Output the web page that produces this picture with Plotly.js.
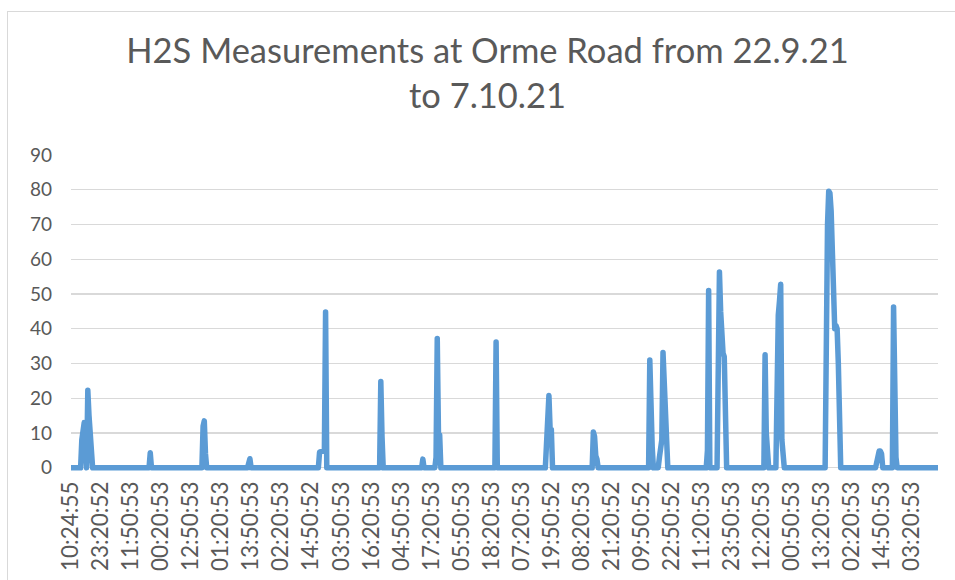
<!DOCTYPE html>
<html>
<head>
<meta charset="utf-8">
<script src="https://cdn.plot.ly/plotly-3.0.1.min.js"></script>
<style>
  html, body { margin: 0; padding: 0; background: #ffffff; }
  #chart { width: 955px; height: 580px; position: absolute; left: 0; top: 0; }
  #frame { position: absolute; left: 7px; top: 11px; width: 2000px; height: 2000px;
           border-left: 1px solid #d9d9d9; border-top: 1px solid #d9d9d9; pointer-events: none; }
  .scatterlayer path.js-line { stroke-linejoin: round; stroke-linecap: round; }
</style>
</head>
<body>
<div id="chart"></div>
<div id="frame"></div>
<script>
// Sample number (one reading every 30 minutes) and H2S reading at that sample.
// Only the samples around each peak are listed; all other readings are 0.
const sampleIndex = [
  0, 8, 9, 11, 13, 14, 15, 16, 17, 18,
  65, 66, 67,
  109, 110, 111, 112, 113,
  147, 148, 149, 150,
  206, 207, 209, 211, 212, 213,
  257, 258, 259, 260,
  292, 293, 294,
  303, 304, 305, 306, 307, 308,
  353, 354, 355,
  395, 396, 397, 398, 399, 400, 401,
  434, 435, 436, 437, 438, 439,
  481, 482, 483, 484, 485,
  489, 490, 491, 492, 493, 494, 495, 496, 497,
  529, 530, 531, 532,
  538, 539, 540, 541, 542, 543, 544, 545, 546,
  577, 578, 579, 580, 581,
  587, 588, 589, 590, 591, 592, 593, 594,
  628, 629, 630, 631, 632, 633, 634, 635, 636, 637, 638, 639, 640, 641,
  670, 671, 672, 673, 674, 675, 676,
  684, 685, 686, 687, 688,
  722
];
const h2sValues = [
  0, 0, 8, 13, 0, 22.3, 15, 11, 8, 0,
  0, 4.3, 0,
  0, 12, 13.5, 4, 0,
  0, 2.3, 2.6, 0,
  0, 4.5, 4.8, 5, 44.8, 0,
  0, 24.8, 9, 0,
  0, 2.5, 0,
  0, 3, 37.2, 10, 9.5, 0,
  0, 36.2, 0,
  0, 7, 8.5, 20.8, 11, 11, 0,
  0, 10.3, 9, 3.5, 2.5, 0,
  0, 31, 12, 6, 0,
  0, 3, 6, 8, 33.2, 22, 10, 8, 0,
  0, 5, 51, 0,
  0, 30, 56.3, 45, 34, 33, 32, 5, 0,
  0, 32.5, 10, 3, 0,
  0, 41, 44, 48, 52.8, 8, 5, 0,
  0, 66, 70, 79.6, 79, 74, 64, 45, 40, 41, 40, 30, 5, 0,
  0, 2.5, 4, 4.8, 4.8, 4, 0,
  0, 46.3, 8, 3, 0,
  0
];
// Category labels shown on the axis (every 25th sample).
const tickPositions = [0, 25, 50, 75, 100, 125, 150, 175, 200, 225, 250, 275, 300, 325,
  350, 375, 400, 425, 450, 475, 500, 525, 550, 575, 600, 625, 650, 675, 700];
const tickLabels = ['10:24:55', '23:20:52', '11:50:53', '00:20:53', '12:50:53', '01:20:53',
  '13:50:53', '02:20:53', '14:50:52', '03:50:53', '16:20:53', '04:50:53', '17:20:53',
  '05:50:53', '18:20:53', '07:20:53', '19:50:52', '08:20:53', '21:20:52', '09:50:52',
  '22:50:52', '11:20:53', '23:50:53', '12:20:53', '00:50:53', '13:20:53', '02:20:53',
  '14:50:53', '03:20:53'];
const yTicks = [0, 10, 20, 30, 40, 50, 60, 70, 80, 90];

const textColor = '#595959';
const fontFam = 'Lato, "Open Sans", sans-serif';

const trace = {
  x: sampleIndex,
  y: h2sValues,
  type: 'scatter',
  mode: 'lines',
  line: { color: '#5b9bd5', width: 5.5, shape: 'linear' },
  hoverinfo: 'x+y',
  showlegend: false
};

const layout = {
  width: 955,
  height: 580,
  paper_bgcolor: 'rgba(0,0,0,0)',
  plot_bgcolor: 'rgba(0,0,0,0)',
  margin: { l: 71, r: 17, t: 154.5, b: 107.3, pad: 0 },
  title: {
    text: 'H2S Measurements at Orme Road from 22.9.21<br>to 7.10.21',
    font: { family: fontFam, size: 34.5, color: textColor },
    xref: 'container', x: 0.5105, xanchor: 'center',
    yref: 'container', y: 1 - 63 / 580, yanchor: 'top'
  },
  xaxis: {
    range: [0, 722],
    tickmode: 'array',
    tickvals: tickPositions,
    ticktext: tickLabels,
    tickangle: -90,
    ticks: '',
    showgrid: false,
    zeroline: false,
    showline: false,
    ticklabelstandoff: 3,
    tickfont: { family: fontFam, size: 22.5, color: textColor }
  },
  yaxis: {
    range: [-1.5, 90],
    tickmode: 'array',
    tickvals: yTicks,
    ticks: '',
    showgrid: true,
    gridcolor: '#d9d9d9',
    gridwidth: 1.3,
    zeroline: true,
    zerolinecolor: '#d9d9d9',
    zerolinewidth: 1.3,
    showline: false,
    ticklabelstandoff: 18,
    tickfont: { family: fontFam, size: 19, color: textColor }
  }
};

Plotly.newPlot('chart', [trace], layout, { displayModeBar: false, staticPlot: true });
</script>
</body>
</html>
